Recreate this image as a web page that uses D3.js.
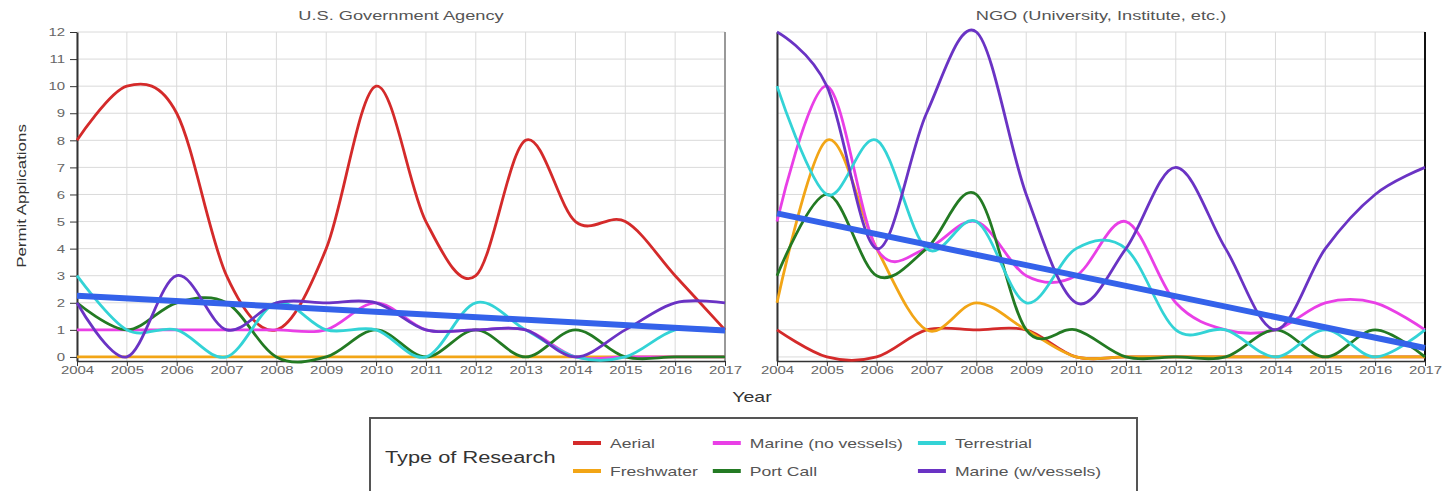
<!DOCTYPE html>
<html>
<head>
<meta charset="utf-8">
<script src="https://cdn.jsdelivr.net/npm/d3@7"></script>
<style>
  body { margin: 0; background: #fff; }
  svg text { font-family: "Liberation Sans", Arial, sans-serif; }
  .grid line { stroke: #dadada; stroke-width: 1; }
  .axis path, .axis line { stroke: #333; }
  .axis text { fill: #666; font-size: 11.5px; }
  .panel-title { fill: #555; font-size: 13px; }
  .axis-title { fill: #333; }
  .series { fill: none; stroke-width: 2.8; }
  .trend { fill: none; stroke: #3462ea; stroke-width: 6; stroke-linecap: butt; }
  .legend-box { fill: #fff; stroke: #555; stroke-width: 2; }
  .legend-title { fill: #333; font-size: 16px; }
  .legend-label { fill: #555; font-size: 13px; }
</style>
</head>
<body>
<svg id="chart"></svg>
<script>
const years = [2004, 2005, 2006, 2007, 2008, 2009, 2010, 2011, 2012, 2013, 2014, 2015, 2016, 2017]
const researchTypes = ['Aerial', 'Freshwater', 'Marine (no vessels)', 'Port Call', 'Terrestrial', 'Marine (w/vessels)']
const typeColors = ['#d42a2a', '#f2a516', '#e93fe6', '#237a23', '#33d3d6', '#6a33c4']
const yTicks = [0, 1, 2, 3, 4, 5, 6, 7, 8, 9, 10, 11, 12]
const trendYears = [2004, 2017]

// U.S. Government Agency
const govAerial          = [8, 10, 9, 3, 1, 4, 10, 5, 3, 8, 5, 5, 3, 1]
const govFreshwater      = [0, 0, 0, 0, 0, 0, 0, 0, 0, 0, 0, 0, 0, 0]
const govMarineNoVessels = [1, 1, 1, 1, 1, 1, 2, 1, 1, 1, 0, 0, 0, 0]
const govPortCall        = [2, 1, 2, 2, 0, 0, 1, 0, 1, 0, 1, 0, 0, 0]
const govTerrestrial     = [3, 1, 1, 0, 2, 1, 1, 0, 2, 1, 0, 0, 1, 1]
const govMarineVessels   = [2, 0, 3, 1, 2, 2, 2, 1, 1, 1, 0, 1, 2, 2]
const govTrend = [2.26, 0.98]

// NGO (University, Institute, etc.)
const ngoAerial          = [1, 0, 0, 1, 1, 1, 0, 0, 0, 0, 0, 0, 0, 0]
const ngoFreshwater      = [2, 8, 4, 1, 2, 1, 0, 0, 0, 0, 0, 0, 0, 0]
const ngoMarineNoVessels = [5, 10, 4, 4, 5, 3, 3, 5, 2, 1, 1, 2, 2, 1]
const ngoPortCall        = [3, 6, 3, 4, 6, 1, 1, 0, 0, 0, 1, 0, 1, 0]
const ngoTerrestrial     = [10, 6, 8, 4, 5, 2, 4, 4, 1, 1, 0, 1, 0, 1]
const ngoMarineVessels   = [12, 10, 4, 9, 12, 6, 2, 4, 7, 4, 1, 4, 6, 7]
const ngoTrend = [5.3, 0.33]

// the reference text is drawn wide, so widen glyphs a bit
function stretchText(sel, k) {
    sel.each(function () {
        let w = this.getComputedTextLength()
        d3.select(this).attr('textLength', w * k).attr('lengthAdjust', 'spacingAndGlyphs')
    })
}

class PanelChart {

    constructor(config, seriesValues, trendValues) {
        this.config = {
            svg: config.svg,
            left: config.left,
            width: config.width || 648,
            top: config.top || 32,
            height: config.height || 329,
            title: config.title,
            showYLabels: config.showYLabels,
            edgeColor: config.edgeColor || '#999'
        }
        this.series = seriesValues.map((values, i) => ({type: researchTypes[i], color: typeColors[i], values}))
        this.trend = trendValues
        this.initVis()
    }

    initVis() {
        let vis = this
        let c = vis.config

        vis.xScale = d3.scaleLinear()
            .domain([years[0], years[years.length - 1]])
            .range([0, c.width])

        vis.yScale = d3.scaleLinear()
            .domain([-0.15, 12])
            .range([c.height, 0])

        vis.chart = c.svg.append('g')
            .attr('transform', `translate(${c.left},${c.top})`)

        // grid
        let grid = vis.chart.append('g').attr('class', 'grid')
        grid.selectAll('.gy').data(yTicks).join('line')
            .attr('x1', 0).attr('x2', c.width)
            .attr('y1', d => vis.yScale(d)).attr('y2', d => vis.yScale(d))
        grid.selectAll('.gx').data(years).join('line')
            .attr('x1', d => vis.xScale(d)).attr('x2', d => vis.xScale(d))
            .attr('y1', 0).attr('y2', c.height)

        vis.chart.append('line')
            .attr('x1', c.width).attr('x2', c.width)
            .attr('y1', 0).attr('y2', c.height)
            .attr('stroke', c.edgeColor)
            .attr('stroke-width', 2)

        vis.xAxis = d3.axisBottom(vis.xScale)
            .tickValues(years)
            .tickFormat(d3.format('d'))
            .tickSize(5)
            .tickPadding(0)
            .tickSizeOuter(0)

        vis.yAxis = d3.axisLeft(vis.yScale)
            .tickValues(yTicks)
            .tickSize(c.showYLabels ? 7 : 0)
            .tickPadding(5)
            .tickSizeOuter(0)

        vis.xAxisG = vis.chart.append('g')
            .attr('class', 'axis x-axis')
            .attr('transform', `translate(0,${c.height})`)
            .call(vis.xAxis)
        vis.xAxisG.select('.domain').attr('stroke-width', 1.5)
        stretchText(vis.xAxisG.selectAll('text'), 1.3)

        vis.yAxisG = vis.chart.append('g')
            .attr('class', 'axis y-axis')
            .call(vis.yAxis)
        vis.yAxisG.select('.domain').attr('stroke-width', 2)
        if (c.showYLabels) {
            stretchText(vis.yAxisG.selectAll('text'), 1.3)
        } else {
            vis.yAxisG.selectAll('text').remove()
        }

        vis.chart.append('text')
            .attr('class', 'panel-title')
            .attr('x', c.width / 2)
            .attr('y', -12)
            .attr('text-anchor', 'middle')
            .text(c.title)
        stretchText(vis.chart.selectAll('.panel-title'), 1.4)

        vis.line = d3.line()
            .x((d, i) => vis.xScale(years[i]))
            .y(d => vis.yScale(d))
            .curve(d3.curveCardinal)

        vis.trendLine = d3.line()
            .x((d, i) => vis.xScale(trendYears[i]))
            .y(d => vis.yScale(d))

        vis.renderVis()
    }

    renderVis() {
        let vis = this

        vis.chart.selectAll('.series')
            .data(vis.series)
            .join('path')
            .attr('class', 'series')
            .attr('stroke', d => d.color)
            .attr('d', d => vis.line(d.values))

        vis.chart.append('path')
            .datum(vis.trend)
            .attr('class', 'trend')
            .attr('d', vis.trendLine)
    }
}

const svg = d3.select('#chart')
    .attr('width', 1454)
    .attr('height', 491)

new PanelChart({svg, left: 77, title: 'U.S. Government Agency', showYLabels: true, edgeColor: '#999'},
    [govAerial, govFreshwater, govMarineNoVessels, govPortCall, govTerrestrial, govMarineVessels], govTrend)

new PanelChart({svg, left: 777, title: 'NGO (University, Institute, etc.)', showYLabels: false, edgeColor: '#111'},
    [ngoAerial, ngoFreshwater, ngoMarineNoVessels, ngoPortCall, ngoTerrestrial, ngoMarineVessels], ngoTrend)

// axis titles
svg.append('text')
    .attr('class', 'axis-title')
    .attr('transform', 'translate(26,196) rotate(-90)')
    .attr('text-anchor', 'middle')
    .style('font-size', '13px')
    .text('Permit Applications')

svg.append('text')
    .attr('class', 'axis-title')
    .attr('x', 752)
    .attr('y', 402)
    .attr('text-anchor', 'middle')
    .style('font-size', '15px')
    .text('Year')
stretchText(svg.selectAll('.axis-title'), 1.3)

// legend
const legend = svg.append('g')

legend.append('rect')
    .attr('class', 'legend-box')
    .attr('x', 370)
    .attr('y', 418)
    .attr('width', 767)
    .attr('height', 110)

legend.append('text')
    .attr('class', 'legend-title')
    .attr('x', 385)
    .attr('y', 463)
    .text('Type of Research')
stretchText(legend.selectAll('.legend-title'), 1.36)

const rowY = [443, 471]
let colX = 573
for (let col = 0; col < 3; col++) {
    let maxW = 0
    for (let row = 0; row < 2; row++) {
        let i = col * 2 + row
        legend.append('line')
            .attr('x1', colX).attr('x2', colX + 28)
            .attr('y1', rowY[row]).attr('y2', rowY[row])
            .attr('stroke', typeColors[i])
            .attr('stroke-width', 4)
        let t = legend.append('text')
            .attr('class', 'legend-label')
            .attr('x', colX + 37)
            .attr('y', rowY[row])
            .attr('dy', '0.35em')
            .text(researchTypes[i])
        stretchText(t, 1.35)
        maxW = Math.max(maxW, +t.attr('textLength'))
    }
    colX = colX + 37 + maxW + 15
}
</script>
</body>
</html>
